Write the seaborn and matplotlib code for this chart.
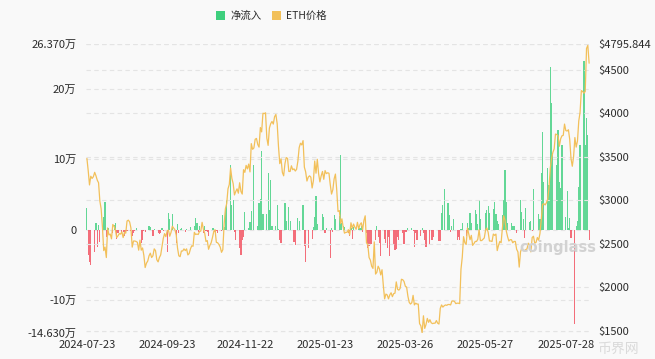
import numpy as np
import pandas as pd
import matplotlib
matplotlib.use("Agg")
import matplotlib.pyplot as plt
from matplotlib.patches import Patch
import seaborn as sns

# Zeitraum: Flüsse nur an Handelstagen, Preis täglich
start_date = "2024-07-23"
end_date = "2025-08-15"

# ETH-ETF Nettozufluss (Einheit: 万 ETH), eine Zeile pro Woche (Mo-Fr)
flow_wan = [
    3.1, -3.5, -4.6, -5.0,
    -3.1, 1.0, -2.4, 0.7, -1.7,
    1.8, 4.0, -1.0, 0.1, 0.2,
    -0.5, 0.7, 1.0, -1.3, -0.5,
    -0.5, -0.3, -0.8, -0.5, -0.2,
    -0.1, -0.9, -0.4, -0.2, 0.2,
    0.0, -1.8, -1.4, -0.2, -0.3,
    0.5, 0.4, 0.0, -0.9, 0.1,
    -0.4, -0.6, -0.4, 0.2, -0.1,
    -3.1, 2.4, 1.6, 0.0, 2.2,
    -1.9, 0.8, -0.4, 0.1, 0.3,
    -0.3, 0.1, 0.0, 0.0, 0.4,
    0.6, 1.7, 1.0, -0.3, 0.5,
    -0.5, 0.5, -0.1, -0.3, -0.8,
    0.3, 0.3, -0.3, -0.2, -0.5,
    -0.2, 2.1, 0.4, 2.8, 4.2,
    9.2, 3.5, 4.3, -0.3, -1.5,
    -2.5, -3.6, -1.5, -1.0, 2.6,
    0.3, 1.1, 2.7, 0.0, 9.2,
    0.6, 3.8, 4.4, 11.2, 2.3,
    2.3, 8.0, 2.8, 7.1, 0.6,
    0.6, 3.6, 0.1, -1.5, -1.9,
    3.8, 1.3, 0.0, 3.2, 1.3,
    -1.7, -2.2, 0.0, 1.7, 1.2,
    3.5, -2.3, -4.6, 0.0, -2.6,
    -1.3, 0.4, 1.8, 4.8, 0.8,
    0.0, 2.3, 1.8, -0.5, 0.3,
    -4.0, 0.3, -0.3, 2.1, 1.5,
    2.0, 10.6, 1.0, 0.5, 0.4,
    -0.5, -0.8, 0.3, -1.3, 0.4,
    0.0, 0.5, 0.2, 0.5, -0.3,
    -0.5, -2.6, -2.3, -2.1, -2.0,
    -1.5, 0.6, -1.0, -1.8, -3.7,
    -1.3, -1.8, -2.5, -1.0, -3.7,
    -2.0, -2.8, -2.7, -1.0, -1.5,
    -0.5, -2.0, -0.3, -0.3, 0.3,
    0.3, -0.1, -2.4, -0.5, -1.4,
    -0.8, 0.3, -0.5, -1.5, -2.4,
    -2.0, -1.4, -1.5, -1.0, 0.0,
    -1.6, -1.6, 2.4, 3.5, 5.8,
    3.8, 2.1, -0.3, 0.5, 1.5,
    -1.5, -1.0, -1.5, 0.1, 1.0,
    -0.8, 1.0, 0.3, 2.4, 1.0,
    2.8, 2.3, 0.8, 4.3, 1.5,
    0.0, 2.4, 2.8, 3.4, 2.4,
    3.0, 4.0, 2.3, 1.3, 0.8,
    2.1, 4.3, 8.5, 4.0, 1.0,
    1.0, 0.5, 0.5, 0.0, -0.5,
    4.3, 2.5, 1.5, -1.2, 3.1,
    1.1, 1.3, -0.2, 5.8, 0.0,
    2.3, 1.6, 8.1, 13.9, 6.8,
    8.8, 6.4, 23.1, 18.0, 10.9,
    9.2, 14.2, 6.8, 6.0, 12.1,
    1.8, 5.5, 0.3, 1.7, -1.2,
    -13.3, 0.6, 1.3, 6.1, 12.0,
    23.97, 12.0, 15.9, 13.5, -1.5,
]

# ETH-Preis (USD), eine Zeile pro Woche (Mo-So)
eth_price = [
    3480, 3340, 3175, 3275, 3250, 3270,
    3320, 3280, 3230, 3200, 2990, 2900, 2690,
    2420, 2460, 2340, 2680, 2600, 2610, 2555,
    2720, 2700, 2660, 2570, 2590, 2615, 2610,
    2635, 2570, 2630, 2620, 2760, 2770, 2750,
    2680, 2460, 2530, 2530, 2525, 2515, 2425,
    2540, 2425, 2450, 2365, 2225, 2275, 2300,
    2360, 2390, 2340, 2360, 2440, 2420, 2315,
    2290, 2340, 2370, 2465, 2560, 2615, 2580,
    2645, 2655, 2585, 2630, 2700, 2680, 2660,
    2600, 2450, 2360, 2350, 2415, 2415, 2440,
    2420, 2440, 2370, 2385, 2440, 2475, 2470,
    2630, 2605, 2610, 2605, 2640, 2645, 2745,
    2665, 2620, 2525, 2535, 2435, 2480, 2510,
    2570, 2640, 2660, 2515, 2510, 2490, 2460,
    2400, 2430, 2720, 2900, 2960, 3130, 3180,
    3370, 3250, 3190, 3060, 3100, 3130, 3080,
    3200, 3100, 3070, 3350, 3320, 3400, 3360,
    3415, 3325, 3650, 3585, 3600, 3700, 3710,
    3640, 3610, 3835, 3785, 4000, 3995, 4005,
    3715, 3630, 3830, 3880, 3905, 3875, 3960,
    3985, 3880, 3620, 3420, 3475, 3320, 3280,
    3420, 3490, 3480, 3330, 3330, 3395, 3350,
    3360, 3335, 3355, 3450, 3605, 3655, 3635,
    3685, 3380, 3325, 3220, 3265, 3280, 3265,
    3140, 3225, 3450, 3310, 3470, 3305, 3210,
    3280, 3330, 3240, 3340, 3305, 3315, 3310,
    3180, 3070, 3120, 3245, 3300, 3120, 2870,
    2880, 2730, 2785, 2690, 2620, 2630, 2630,
    2660, 2600, 2740, 2675, 2725, 2690, 2665,
    2745, 2670, 2720, 2740, 2660, 2765, 2820,
    2510, 2490, 2340, 2310, 2240, 2215, 2520,
    2150, 2170, 2240, 2210, 2140, 2200, 2020,
    1865, 1920, 1910, 1865, 1910, 1935, 1890,
    1925, 1930, 2060, 1975, 1965, 1985, 2090,
    2085, 2065, 2010, 2000, 1895, 1825, 1805,
    1820, 1905, 1795, 1815, 1805, 1805, 1580,
    1555, 1475, 1670, 1525, 1570, 1640, 1595,
    1625, 1590, 1580, 1585, 1585, 1615, 1585,
    1575, 1755, 1795, 1770, 1785, 1795, 1790,
    1800, 1800, 1795, 1840, 1840, 1835, 1810,
    1815, 1815, 1810, 2205, 2345, 2580, 2510,
    2490, 2680, 2610, 2545, 2595, 2480, 2500,
    2525, 2525, 2550, 2660, 2535, 2535, 2550,
    2565, 2655, 2680, 2630, 2530, 2530, 2525,
    2610, 2595, 2610, 2420, 2480, 2525, 2510,
    2680, 2820, 2770, 2645, 2580, 2530, 2545,
    2545, 2510, 2525, 2525, 2435, 2405, 2230,
    2405, 2450, 2420, 2420, 2430, 2440, 2505,
    2485, 2405, 2570, 2585, 2505, 2515, 2570,
    2540, 2615, 2770, 2950, 2960, 2945, 2970,
    3010, 3140, 3370, 3480, 3550, 3590, 3760,
    3755, 3740, 3620, 3705, 3740, 3745, 3875,
    3800, 3795, 3810, 3700, 3480, 3390, 3500,
    3720, 3610, 3680, 3910, 4010, 4260, 4250,
    4230, 4250, 4745, 4780, 4575,
]

tick_dates = ["2024-07-23", "2024-09-23", "2024-11-22", "2025-01-23",
              "2025-03-26", "2025-05-27", "2025-07-28"]
left_ticks = [-14.63, -10, 0, 10, 20, 26.37]
left_labels = ["-14.630万", "-10万", "0", "10万", "20万", "26.370万"]
right_ticks = [1500, 2000, 2500, 3000, 3500, 4000, 4500, 4795.844]
right_labels = ["$1500", "$2000", "$2500", "$3000", "$3500", "$4000", "$4500", "$4795.844"]

GREEN = "#3ecf7d"
RED = "#f24b5b"
YELLOW = "#f2c05a"
BG = "#f9f9f9"
GRID = "#e4e4e4"
TEXT = "#2b2b2b"

sns.set_theme(style="white")
plt.rcParams["font.family"] = ["Noto Sans CJK SC", "DejaVu Sans"]

flow_df = pd.DataFrame({"date": pd.bdate_range(start_date, end_date), "flow": flow_wan})
price_df = pd.DataFrame({"date": pd.date_range(start_date, end_date), "price": eth_price})

fig = plt.figure(figsize=(6.55, 3.59), dpi=100, facecolor=BG)
ax = fig.add_axes([0.1313, 0.0724, 0.7695, 0.805])
ax.set_facecolor(BG)

# Balken: Nettozufluss
colors = [GREEN if v >= 0 else RED for v in flow_df["flow"]]
ax.bar(flow_df["date"], flow_df["flow"], width=0.9, color=colors, alpha=0.8, linewidth=0, zorder=2)
ax.set_ylim(-14.63, 26.37)
ax.set_yticks(left_ticks)
ax.set_yticklabels(left_labels)
ax.grid(axis="y", color=GRID, linestyle=(0, (4, 3)), linewidth=0.8, zorder=0)
ax.grid(axis="x", visible=False)

# Linie: ETH-Preis
ax2 = ax.twinx()
sns.lineplot(data=price_df, x="date", y="price", ax=ax2, color=YELLOW, linewidth=0.9)
ax2.set_ylim(1472, 4795.844)
ax2.set_yticks(right_ticks)
ax2.set_yticklabels(right_labels)
ax2.grid(axis="y", color=GRID, linestyle=(0, (4, 3)), linewidth=0.8, zorder=0)
ax2.set_xlabel("")
ax2.set_ylabel("")
ax.set_xlabel("")
ax.set_ylabel("")

xticks = pd.to_datetime(tick_dates)
ax.set_xlim(pd.Timestamp(start_date) - pd.Timedelta(days=0.7),
             pd.Timestamp(end_date) + pd.Timedelta(days=0.7))
ax.set_xticks(xticks)
ax.set_xticklabels(tick_dates)

for a in (ax, ax2):
    for s in a.spines.values():
        s.set_visible(False)
ax.tick_params(axis="both", length=0, labelsize=8, colors=TEXT)
ax.tick_params(axis="y", pad=7)
ax.tick_params(axis="x", pad=5)
ax2.tick_params(axis="y", length=0, labelsize=8, colors=TEXT, pad=6)

# Wasserzeichen
fig.text(0.852, 0.31, "coinglass", fontsize=10.5, color="#d2d2d2", ha="center", va="center",
         fontweight="bold", family=["DejaVu Sans"])
fig.text(0.945, 0.028, "币界网", fontsize=10, color="#dadada", ha="center", va="center")

# Legende
handles = [Patch(facecolor=GREEN, edgecolor="none", label="净流入"),
           Patch(facecolor=YELLOW, edgecolor="none", label="ETH价格")]
fig.legend(handles=handles, loc="center", bbox_to_anchor=(0.414, 0.955), ncol=2, frameon=False,
           fontsize=7.5, handlelength=0.9, handleheight=0.9, handletextpad=0.5, columnspacing=1.0,
           labelcolor=TEXT)

fig.savefig("out.png", dpi=100, facecolor=BG)
